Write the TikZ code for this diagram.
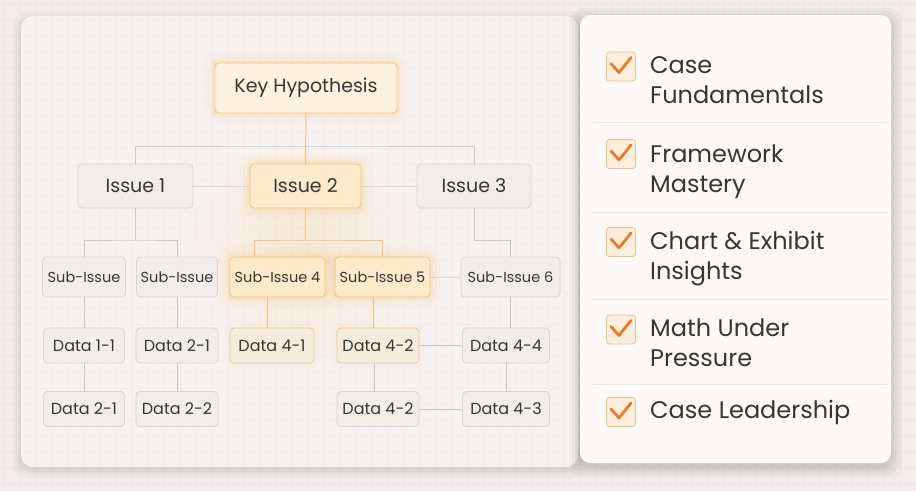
\documentclass[tikz,border=0pt]{standalone}
\usepackage{fontspec}
\setmainfont{Poppins}
\definecolor{pagebg}{HTML}{F2EDEC}
\definecolor{gridline}{HTML}{ECE6E5}
\definecolor{panelbg}{HTML}{F6F2F1}
\definecolor{cardbg}{HTML}{FCF9F8}
\definecolor{boxfill}{HTML}{F1EDEC}
\definecolor{boxline}{HTML}{D9D3D2}
\definecolor{ink}{HTML}{3A3434}
\definecolor{wire}{HTML}{CBC5C4}
\definecolor{hotfill}{HTML}{FCEACB}
\definecolor{hotline}{HTML}{F0C27A}
\definecolor{glow}{HTML}{F7BE5E}
\definecolor{tick}{HTML}{E87B2C}
\definecolor{tickfill}{HTML}{FDEDDD}
\definecolor{tickline}{HTML}{F2BC8E}
\definecolor{rule}{HTML}{ECE6E5}
\tikzset{
  box/.style={draw=boxline, fill=boxfill, rounded corners=4pt, text=ink,
    line width=0.8pt, inner sep=0pt},
  hot/.style={box, draw=hotline, fill=hotfill,
    preaction={draw=glow, line width=22pt, opacity=0.04},
    preaction={draw=glow, line width=13pt, opacity=0.07},
    preaction={draw=glow, line width=6pt, opacity=0.14}},
  warm/.style={box, draw=hotline!70!boxline, fill=hotfill!45!boxfill,
    preaction={draw=glow, line width=10pt, opacity=0.06}},
  issue/.style={minimum height=44pt, font=\fontsize{19}{22}\selectfont},
  subissue/.style={minimum height=40pt, font=\fontsize{14.5}{17}\selectfont},
  datum/.style={minimum height=35pt, font=\fontsize{16}{19}\selectfont},
  wire/.style={draw=wire, line width=0.8pt},
  hotwire/.style={draw=hotline, line width=1pt},
  chk/.style={draw=tickline, fill=tickfill, rounded corners=3pt,
    minimum size=29pt, inner sep=0pt, line width=0.8pt},
  tickmark/.style={draw=tick, line width=2.8pt, line cap=round, line join=round},
  item/.style={anchor=base west, align=left, inner sep=0pt, text=ink,
    font=\fontsize{24}{30}\selectfont},
}
\begin{document}
\begin{tikzpicture}[x=1pt, y=-1pt]
  \useasboundingbox (0,0) rectangle (916,491);
  % page and grid
  \fill[pagebg] (0,0) rectangle (916,491);
  \foreach \gx in {4,20,...,916}
    \draw[gridline, line width=0.4pt] (\gx,0) -- (\gx,491);
  \foreach \gy in {4,20,...,491}
    \draw[gridline, line width=0.4pt] (0,\gy) -- (916,\gy);
  % panels with soft shadows
  \foreach \s in {1,3,5,8}
    \fill[black, opacity=0.025, rounded corners=14pt]
      (21-\s,16-\s+3) rectangle (578+\s,467+\s+3);
  \fill[panelbg, rounded corners=12pt] (21,16) rectangle (578,467);
  \begin{scope}
    \clip[rounded corners=12pt] (21,16) rectangle (578,467);
    \foreach \gx in {4,20,...,580}
      \draw[gridline, line width=0.4pt, opacity=0.4] (\gx,16) -- (\gx,467);
    \foreach \gy in {20,36,...,467}
      \draw[gridline, line width=0.4pt, opacity=0.4] (21,\gy) -- (578,\gy);
  \end{scope}
  % soft warm light around the centre branch
  \shade[inner color=glow, outer color=panelbg, opacity=0.2]
    (305,250) ellipse (120 and 110);
  \foreach \s in {1,3,5,8,11}
    \fill[black, opacity=0.03, rounded corners=14pt]
      (580-\s,15-\s+4) rectangle (891+\s,463+\s+4);
  \fill[cardbg, rounded corners=10pt] (580,15) rectangle (891,463);

  % tree
  \node[hot, minimum width=182pt, minimum height=50pt, fill=hotfill!60!white,
    font=\fontsize{19}{22}\selectfont] (kh) at (306,88) {Key Hypothesis};
  \node[box, issue, minimum width=115pt] (i1) at (135.5,186) {Issue 1};
  \node[hot, issue, minimum width=111pt] (i2) at (305.5,186) {Issue 2};
  \node[box, issue, minimum width=114pt] (i3) at (474,186) {Issue 3};

  \node[box, subissue, minimum width=83pt] (s1) at (84,277) {Sub-Issue};
  \node[box, subissue, minimum width=81pt] (s2) at (177,277) {Sub-Issue};
  \node[hot, subissue, minimum width=95pt] (s4) at (277.5,277) {Sub-Issue 4};
  \node[hot, subissue, minimum width=95pt] (s5) at (382.5,277) {Sub-Issue 5};
  \node[box, subissue, minimum width=99pt] (s6) at (510.5,277) {Sub-Issue 6};

  \node[box, datum, minimum width=81pt] (d11) at (84,345.5) {Data 1-1};
  \node[box, datum, minimum width=82pt] (d21) at (177,345.5) {Data 2-1};
  \node[warm, datum, minimum width=84pt] (d41) at (272,345.5) {Data 4-1};
  \node[warm, datum, minimum width=82pt] (d42) at (378,345.5) {Data 4-2};
  \node[box, datum, minimum width=87pt] (d44) at (506,345.5) {Data 4-4};

  \node[box, datum, minimum width=81pt] (e21) at (84,409) {Data 2-1};
  \node[box, datum, minimum width=82pt] (e22) at (177,409) {Data 2-2};
  \node[box, datum, minimum width=82pt, fill=hotfill!15!boxfill] (e42) at (378,409) {Data 4-2};
  \node[box, datum, minimum width=87pt] (e43) at (506,409) {Data 4-3};

  \coordinate (top) at (305.5,146);
  \coordinate (b1) at (135.5,240);
  \coordinate (b2) at (305.5,240);
  \coordinate (b3) at (474,240);

  \draw[wire] (i1) |- (top) -| (i3);
  \draw[hotwire] (kh) -- (i2);
  \draw[wire, draw opacity=0.6] (i1) -- (i2) -- (i3);
  \draw[wire] (i1) -- (b1);
  \draw[wire] (s1) |- (b1) -| (s2);
  \draw[hotwire] (i2) -- (b2);
  \draw[hotwire] ([xshift=-23pt]s4.north) |- (b2) -| (s5);
  \draw[wire] (i3) -- (b3) -| (s6);
  \draw[hotwire, draw opacity=0.6] (s5) -- (s6);
  \draw[wire] (s1) -- (d11);
  \draw[wire] (s2) -- (d21);
  \draw[hotwire] ([xshift=-5pt]d41.north) -- ([xshift=-5pt]d41.north |- s4.south);
  \draw[hotwire] ([xshift=-5pt]d42.north) -- ([xshift=-5pt]d42.north |- s5.south);
  \draw[wire] (s6.south) -- (s6.south |- d44.north);
  \draw[wire] (d11) -- (e21);
  \draw[wire] (d21) -- (e22);
  \draw[wire] ([xshift=-4pt]d42.south) -- ([xshift=-4pt]e42.north);
  \draw[wire] (d44) -- (e43);
  \draw[wire] (d42) -- (d44);
  \draw[wire] (e42) -- (e43);

  % checklist
  \node[chk] (c1) at (621,66.5) {};
  \node[chk] (c2) at (621,154) {};
  \node[chk] (c3) at (621,242) {};
  \node[chk] (c4) at (621,329.5) {};
  \node[chk] (c5) at (621,412) {};
  \draw[tickmark] (c1) ++(-10,-3) -- ++(8,9) -- ++(12,-15);
  \draw[tickmark] (c2) ++(-10,-3) -- ++(8,9) -- ++(12,-15);
  \draw[tickmark] (c3) ++(-10,-3) -- ++(8,9) -- ++(12,-15);
  \draw[tickmark] (c4) ++(-10,-3) -- ++(8,9) -- ++(12,-15);
  \draw[tickmark] (c5) ++(-10,-3) -- ++(8,9) -- ++(12,-15);
  \node[item] (t1) at (650,103) {Case\\Fundamentals};
  \node[item] (t2) at (650,192) {Framework\\Mastery};
  \node[item] (t3) at (650,279) {Chart \& Exhibit\\Insights};
  \node[item] (t4) at (650,366) {Math Under\\Pressure};
  \node[item] (t5) at (650,418) {Case Leadership};
  \draw[rule, line width=0.8pt] (593,122) -- (887,122);
  \draw[rule, line width=0.8pt] (593,212) -- (887,212);
  \draw[rule, line width=0.8pt] (593,299) -- (887,299);
  \draw[rule, line width=0.8pt] (593,384) -- (887,384);
\end{tikzpicture}
\end{document}
